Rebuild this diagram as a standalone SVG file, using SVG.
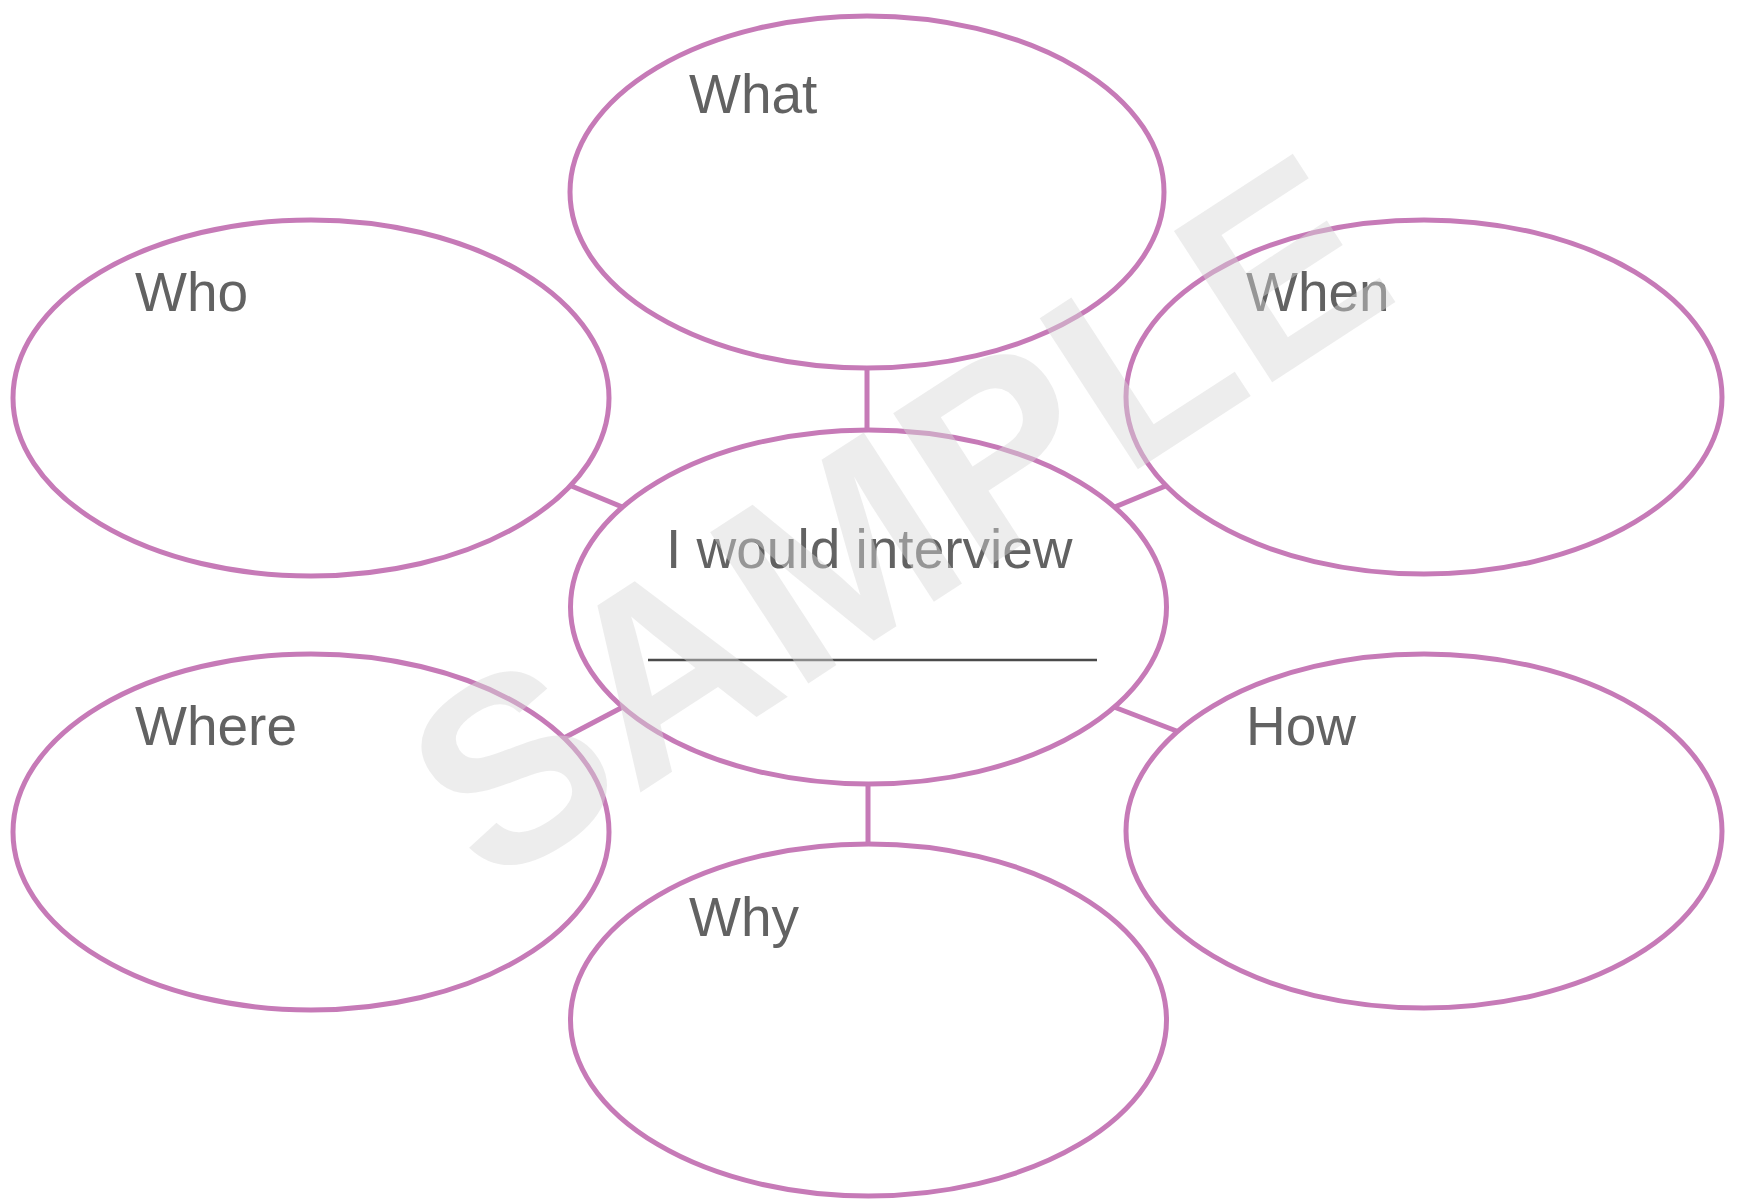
<svg xmlns="http://www.w3.org/2000/svg" width="1737" height="1200" viewBox="0 0 1737 1200">
  <style>
    .bubble { fill: #ffffff; stroke: #c67ab7; stroke-width: 5; }
    .conn { stroke: #c67ab7; stroke-width: 5; fill: none; }
    .label { font-family: "Liberation Sans", Arial, sans-serif; font-size: 55px; fill: #626262; }
    .wm { font-family: "Liberation Sans", Arial, sans-serif; font-weight: bold; font-size: 262px; fill: #d6d6d6; fill-opacity: 0.45; }
  </style>
  <rect x="0" y="0" width="1737" height="1200" fill="#ffffff"/>
  <g id="connectors">
    <line class="conn" x1="867" y1="300" x2="867" y2="500"/>
    <line class="conn" x1="868" y1="700" x2="868" y2="900"/>
    <line class="conn" x1="540" y1="473" x2="660" y2="522.6"/>
    <line class="conn" x1="1197" y1="473" x2="1077" y2="522.6"/>
    <line class="conn" x1="560" y1="740" x2="640" y2="698"/>
    <line class="conn" x1="1097" y1="700.5" x2="1200" y2="740"/>
  </g>
  <g id="node-what">
    <ellipse class="bubble" cx="867" cy="192" rx="297" ry="176"/>
    <text class="label" x="689" y="113">What</text>
  </g>
  <g id="node-who">
    <ellipse class="bubble" cx="311" cy="398" rx="298" ry="178"/>
    <text class="label" x="135" y="311">Who</text>
  </g>
  <g id="node-when">
    <ellipse class="bubble" cx="1424" cy="397" rx="298" ry="177"/>
    <text class="label" x="1246" y="311">When</text>
  </g>
  <g id="node-center">
    <ellipse class="bubble" cx="868.5" cy="607" rx="298" ry="177"/>
    <text class="label" x="666" y="568">I would interview</text>
    <line x1="648" y1="660" x2="1097" y2="660" stroke="#4a4a4a" stroke-width="2.5"/>
  </g>
  <g id="node-where">
    <ellipse class="bubble" cx="311" cy="832" rx="298" ry="178"/>
    <text class="label" x="135" y="745">Where</text>
  </g>
  <g id="node-how">
    <ellipse class="bubble" cx="1424" cy="831" rx="298" ry="177"/>
    <text class="label" x="1246" y="745">How</text>
  </g>
  <g id="node-why">
    <ellipse class="bubble" cx="868.5" cy="1020" rx="298" ry="176"/>
    <text class="label" x="689" y="936">Why</text>
  </g>
  <g id="watermark">
    <text class="wm" x="895" y="609" text-anchor="middle" transform="rotate(-33 895 515)">SAMPLE</text>
  </g>
</svg>
